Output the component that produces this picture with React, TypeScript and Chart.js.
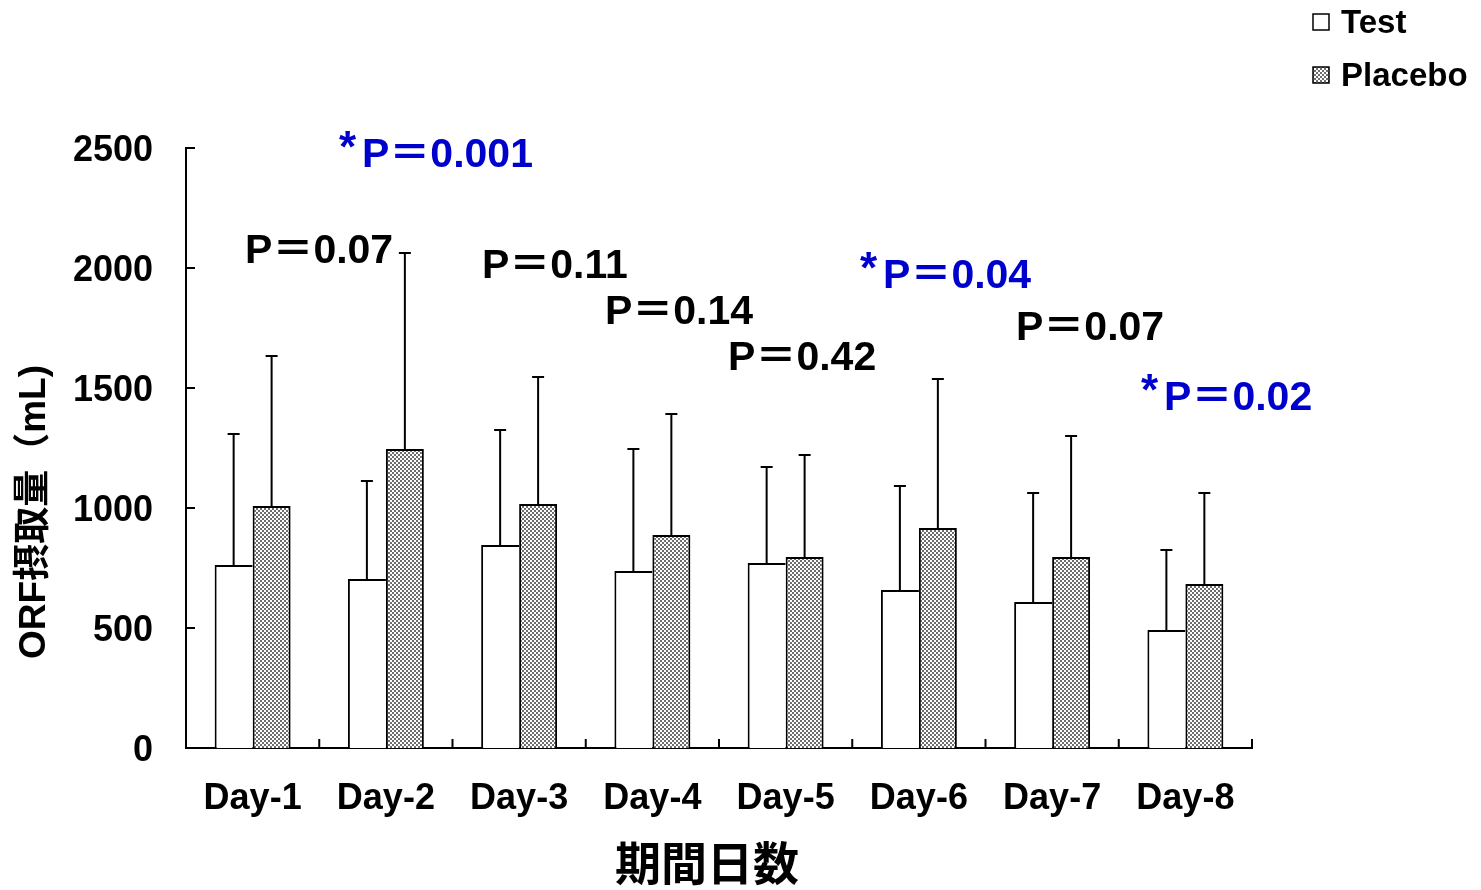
import React, { useEffect, useRef } from 'react';
import { Chart, registerables } from 'chart.js';

Chart.register(...registerables);

const categories = ['Day-1', 'Day-2', 'Day-3', 'Day-4', 'Day-5', 'Day-6', 'Day-7', 'Day-8'];
const testMeans = [762, 704, 846, 737, 771, 658, 608, 492];
const testSD = [546, 408, 479, 509, 400, 434, 454, 333];
const placeboMeans = [1008, 1246, 1017, 887, 796, 917, 796, 683];
const placeboSD = [625, 816, 529, 505, 425, 620, 504, 379];
const yTicks = [0, 500, 1000, 1500, 2000, 2500];

const pTexts = ['P＝0.07', 'P＝0.001', 'P＝0.11', 'P＝0.14', 'P＝0.42', 'P＝0.04', 'P＝0.07', 'P＝0.02'];
const pStar = [false, true, false, false, false, true, false, true];
const pXIndex = [-0.057, 0.821, 1.721, 2.644, 3.568, 4.731, 5.729, 6.84];
const pYValue = [2066, 2466, 2004, 1812, 1624, 1962, 1749, 1454];

const seriesNames = ['Test', 'Placebo'];
const xTitle = '期間日数';
const yTitle = 'ORF摂取量（mL)';

const FONT = '"Liberation Sans", Arial, "Noto Sans CJK JP", sans-serif';
const BLUE = '#0000CC';

function makePattern(): CanvasPattern | string {
  const c = document.createElement('canvas');
  c.width = 4;
  c.height = 4;
  const g = c.getContext('2d');
  if (!g) return '#999';
  g.fillStyle = '#ffffff';
  g.fillRect(0, 0, 4, 4);
  g.fillStyle = '#6e6e6e';
  g.fillRect(0, 0, 2, 2);
  g.fillRect(2, 2, 2, 2);
  const p = g.createPattern(c, 'repeat');
  return p || '#999';
}

export default function App() {
  const ref = useRef<HTMLCanvasElement | null>(null);

  useEffect(() => {
    if (!ref.current) return;
    const pattern = makePattern();
    const errs = [testSD, placeboSD];

    const decor = {
      id: 'decor',
      afterDatasetsDraw(chart: any) {
        const ctx = chart.ctx as CanvasRenderingContext2D;
        const xs = chart.scales.x;
        const ys = chart.scales.y;
        ctx.save();
        ctx.strokeStyle = '#000';
        ctx.lineWidth = 2;
        // error bars
        chart.data.datasets.forEach((ds: any, di: number) => {
          const meta = chart.getDatasetMeta(di);
          meta.data.forEach((bar: any, i: number) => {
            const top = ys.getPixelForValue(ds.data[i] + errs[di][i]);
            ctx.beginPath();
            ctx.moveTo(bar.x, bar.y);
            ctx.lineTo(bar.x, top);
            ctx.moveTo(bar.x - 6, top);
            ctx.lineTo(bar.x + 6, top);
            ctx.stroke();
          });
        });
        // y ticks (inward)
        yTicks.forEach((v) => {
          const py = ys.getPixelForValue(v);
          ctx.beginPath();
          ctx.moveTo(xs.left, py);
          ctx.lineTo(xs.left + 9, py);
          ctx.stroke();
        });
        // x ticks (upward, at category boundaries)
        for (let i = 0; i <= categories.length; i++) {
          const px = xs.getPixelForValue(i - 0.5);
          ctx.beginPath();
          ctx.moveTo(px, ys.bottom);
          ctx.lineTo(px, ys.bottom - 9);
          ctx.stroke();
        }
        // p-value labels
        ctx.textBaseline = 'middle';
        ctx.textAlign = 'left';
        pTexts.forEach((t, i) => {
          const px = xs.getPixelForValue(pXIndex[i]);
          const py = ys.getPixelForValue(pYValue[i]);
          const color = pStar[i] ? BLUE : '#000';
          ctx.fillStyle = color;
          ctx.font = `bold 41px ${FONT}`;
          ctx.fillText(t, px, py);
          if (pStar[i]) {
            ctx.font = `bold 44px ${FONT}`;
            ctx.fillText('*', px - 23, py - 6);
          }
        });
        // axis titles
        ctx.fillStyle = '#000';
        ctx.textAlign = 'center';
        ctx.font = `bold 46px ${FONT}`;
        ctx.fillText(xTitle, (xs.left + xs.right) / 2 - 12, 867);
        ctx.save();
        ctx.translate(35, 512);
        ctx.rotate(-Math.PI / 2);
        ctx.font = `bold 37px ${FONT}`;
        ctx.fillText(yTitle, 0, 0);
        ctx.restore();
        // legend
        ctx.lineWidth = 1.5;
        ctx.fillStyle = '#fff';
        ctx.fillRect(1313, 14, 16, 16);
        ctx.strokeRect(1313, 14, 16, 16);
        ctx.fillStyle = pattern as any;
        ctx.fillRect(1313, 67, 16, 16);
        ctx.strokeRect(1313, 67, 16, 16);
        ctx.fillStyle = '#000';
        ctx.textAlign = 'left';
        ctx.font = `bold 33px ${FONT}`;
        ctx.fillText(seriesNames[0], 1341, 24);
        ctx.fillText(seriesNames[1], 1341, 77);
        ctx.restore();
      },
    };

    const chart = new Chart(ref.current, {
      type: 'bar',
      data: {
        labels: categories,
        datasets: [
          {
            label: seriesNames[0],
            data: testMeans,
            backgroundColor: '#ffffff',
            borderColor: '#000',
            borderWidth: { left: 2, top: 2, right: 0, bottom: 0 } as any,
            borderSkipped: false as any,
            categoryPercentage: 0.57,
            barPercentage: 1.0,
          },
          {
            label: seriesNames[1],
            data: placeboMeans,
            backgroundColor: pattern as any,
            borderColor: '#000',
            borderWidth: 2,
            categoryPercentage: 0.57,
            barPercentage: 1.0,
          },
        ],
      },
      options: {
        responsive: false,
        animation: false,
        layout: { padding: { top: 148, right: 229, bottom: 0, left: 0 } },
        plugins: { legend: { display: false }, tooltip: { enabled: false } },
        scales: {
          x: {
            grid: { display: false, drawTicks: false },
            border: { display: true, color: '#000', width: 2 },
            ticks: { color: '#000', font: { family: FONT, size: 36, weight: 'bold' }, padding: 29 },
            afterFit: (s: any) => {
              s.height = 142;
            },
          },
          y: {
            min: 0,
            max: 2500,
            grid: { display: false, drawTicks: false },
            border: { display: true, color: '#000', width: 2 },
            ticks: {
              stepSize: 500,
              color: '#000',
              font: { family: FONT, size: 36, weight: 'bold' },
              padding: 33,
              labelOffset: 3,
              callback: (v: any) => String(v),
            },
            afterFit: (s: any) => {
              s.width = 186;
            },
          },
        },
      },
      plugins: [decor],
    });
    return () => chart.destroy();
  }, []);

  return (
    <div style={{ position: 'absolute', left: 0, top: 0, width: 1481, height: 890, background: '#fff' }}>
      <canvas ref={ref} width={1481} height={890} style={{ display: 'block' }} />
    </div>
  );
}
